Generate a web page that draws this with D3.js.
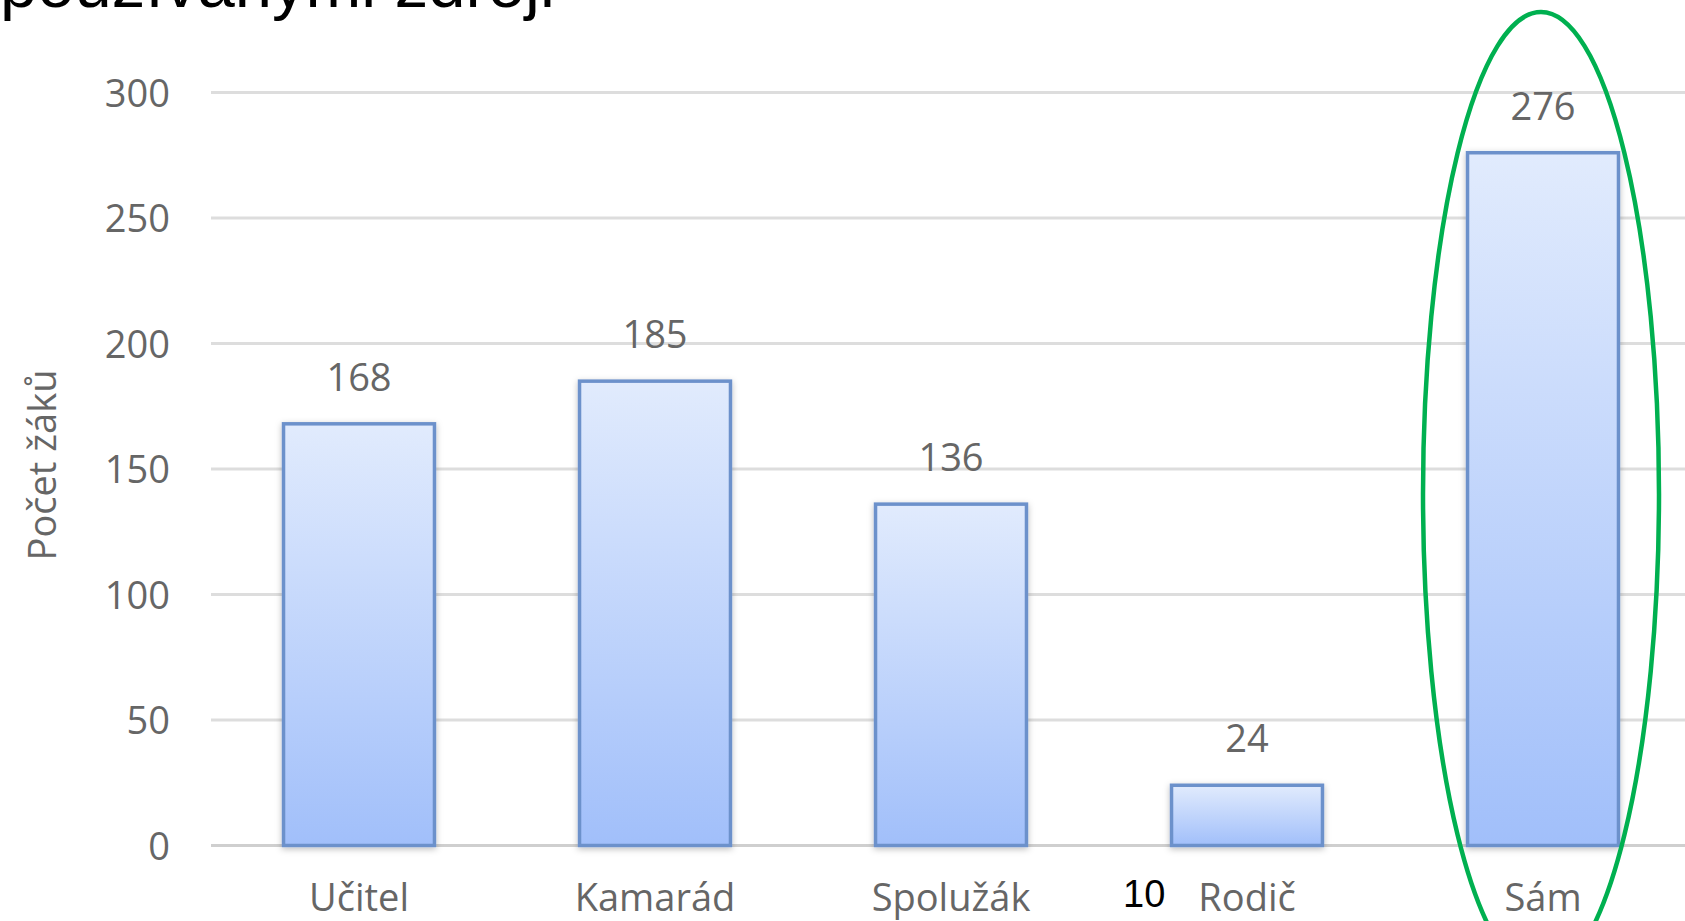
<!DOCTYPE html>
<html>
<head>
<meta charset="utf-8">
<script src="https://cdn.jsdelivr.net/npm/d3@7"></script>
<style>
    body { margin: 0; background: #ffffff; overflow: hidden; }
    svg { display: block; }
</style>
</head>
<body>
<div id="chart"></div>
<script>

// data
var categories = ["Učitel", "Kamarád", "Spolužák", "Rodič", "Sám"];
var counts = [168, 185, 136, 24, 276];
var yTicks = [0, 50, 100, 150, 200, 250, 300];
var yTitle = "Počet žáků";
var headerText = "používanými zdroji";
var pageNumber = "10";
var highlighted = "Sám";

/**
 * Constructor for the bar chart
 */
function BarChart(categories, counts){
    var self = this;
    self.categories = categories;
    self.counts = counts;
    self.init();
    self.draw();
}

/**
 * Creates svg and scales
 */
BarChart.prototype.init = function(){
    var self = this;
    self.width = 1685;
    self.height = 921;
    self.margin = {top: 92.5, right: -6, bottom: 75.5, left: 211};

    self.svg = d3.select("#chart").append("svg")
        .attr("width", self.width)
        .attr("height", self.height);

    self.x = d3.scaleBand()
        .domain(self.categories)
        .range([self.margin.left, self.width - self.margin.right])
        .paddingInner(0.49)
        .paddingOuter(0.245);

    self.y = d3.scaleLinear()
        .domain([0, 300])
        .range([self.height - self.margin.bottom, self.margin.top]);

    var defs = self.svg.append("defs");
    var grad = defs.append("linearGradient")
        .attr("id", "barFill")
        .attr("x1", 0).attr("y1", 0).attr("x2", 0).attr("y2", 1);
    grad.append("stop").attr("offset", "0%").attr("stop-color", "#e1ebfd");
    grad.append("stop").attr("offset", "100%").attr("stop-color", "#a1bffa");

    var shadow = defs.append("filter")
        .attr("id", "barShadow")
        .attr("x", "-20%").attr("y", "-20%")
        .attr("width", "140%").attr("height", "140%");
    shadow.append("feDropShadow")
        .attr("dx", 0).attr("dy", 2)
        .attr("stdDeviation", 3)
        .attr("flood-color", "#000")
        .attr("flood-opacity", 0.25);
};

/**
 * Draws grid, bars, labels
 */
BarChart.prototype.draw = function(){
    var self = this;
    var textColor = "#666666";
    var font = "'Open Sans', 'Noto Sans', sans-serif";

    //header text cut at the top of the slide
    self.svg.append("text")
        .attr("x", 0)
        .attr("y", 7)
        .attr("font-family", "'Liberation Sans', Arial, sans-serif")
        .attr("font-size", 67)
        .attr("fill", "#000")
        .text(headerText);

    //grid lines
    var grid = self.svg.append("g").classed("grid", true);
    grid.selectAll("line")
        .data(yTicks)
        .enter().append("line")
        .attr("x1", self.margin.left)
        .attr("x2", self.width)
        .attr("y1", function(d){ return self.y(d); })
        .attr("y2", function(d){ return self.y(d); })
        .attr("stroke", function(d){ return d === 0 ? "#cfcfcf" : "#dddddd"; })
        .attr("stroke-width", 3);

    //y axis tick labels
    var yAxis = d3.axisLeft(self.y)
        .tickValues(yTicks)
        .tickSize(0)
        .tickPadding(0);
    var yg = self.svg.append("g")
        .attr("transform", "translate(170,0)")
        .call(yAxis);
    yg.select(".domain").remove();
    yg.selectAll("text")
        .attr("font-family", font)
        .attr("font-size", 38)
        .attr("fill", textColor)
        .attr("dy", "0.36em");

    //y axis title
    self.svg.append("text")
        .attr("transform", "translate(56,465) rotate(-90)")
        .attr("text-anchor", "middle")
        .attr("font-family", font)
        .attr("font-size", 38)
        .attr("fill", textColor)
        .text(yTitle);

    var data = self.categories.map(function(c, i){
        return {name: c, count: self.counts[i]};
    });

    //bars
    self.svg.append("g").selectAll("rect")
        .data(data)
        .enter().append("rect")
        .attr("x", function(d){ return self.x(d.name); })
        .attr("width", self.x.bandwidth())
        .attr("y", function(d){ return self.y(d.count); })
        .attr("height", function(d){ return self.y(0) - self.y(d.count); })
        .attr("fill", "url(#barFill)")
        .attr("stroke", "#6c91cb")
        .attr("stroke-width", 3.5)
        .attr("filter", "url(#barShadow)");

    //value labels
    self.svg.append("g").selectAll("text")
        .data(data)
        .enter().append("text")
        .attr("x", function(d){ return self.x(d.name) + self.x.bandwidth()/2; })
        .attr("y", function(d){ return self.y(d.count) - 33; })
        .attr("text-anchor", "middle")
        .attr("font-family", font)
        .attr("font-size", 38)
        .attr("fill", textColor)
        .text(function(d){ return d.count; });

    //category labels
    var xAxis = d3.axisBottom(self.x).tickSize(0).tickPadding(0);
    var xg = self.svg.append("g")
        .attr("transform", "translate(0,911)")
        .call(xAxis);
    xg.select(".domain").remove();
    xg.selectAll("text")
        .attr("dy", 0)
        .attr("font-family", font)
        .attr("font-size", 38)
        .attr("fill", textColor);

    //page number
    self.svg.append("text")
        .attr("x", 1123)
        .attr("y", 907)
        .attr("font-family", "'Liberation Sans', Arial, sans-serif")
        .attr("font-size", 38)
        .attr("fill", "#000")
        .text(pageNumber);

    //green ellipse around highlighted bar
    var cx = self.x(highlighted) + self.x.bandwidth()/2 - 2;
    self.svg.append("ellipse")
        .attr("cx", cx)
        .attr("cy", 494)
        .attr("rx", 118)
        .attr("ry", 482)
        .attr("fill", "none")
        .attr("stroke", "#00b050")
        .attr("stroke-width", 4.5);
};

var chart = new BarChart(categories, counts);

</script>
</body>
</html>
